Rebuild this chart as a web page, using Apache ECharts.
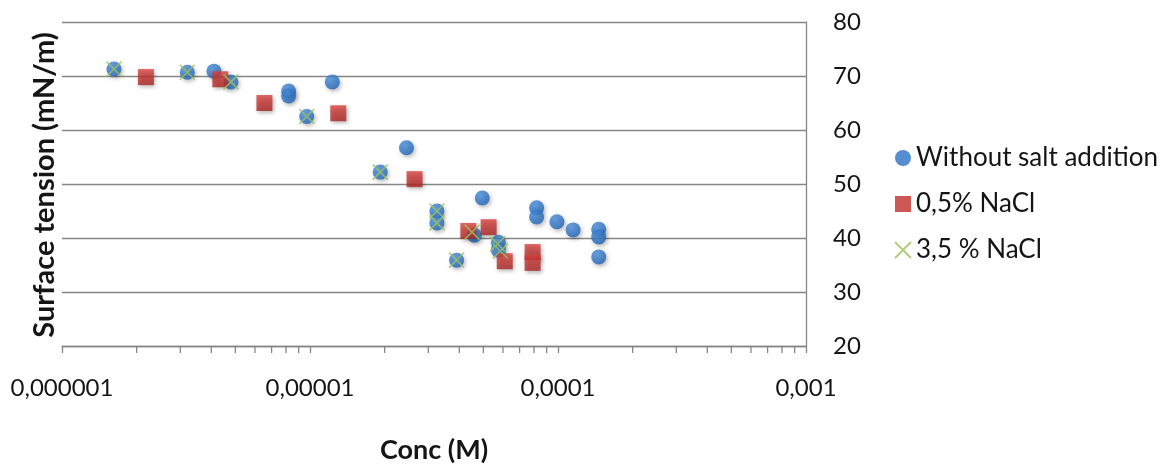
<!DOCTYPE html>
<html>
<head>
<meta charset="utf-8">
<script src="https://cdn.jsdelivr.net/npm/echarts@6/dist/echarts.min.js"></script>
<style>
  html, body { margin: 0; padding: 0; background: #ffffff; }
  #chart { width: 1173px; height: 465px; }
</style>
</head>
<body>
<div id="chart"></div>
<script>
// Surface tension vs. surfactant concentration, with and without NaCl
const seriesNames = ['Without salt addition', '0,5% NaCl', '3,5 % NaCl'];

const noSaltConc = [1.62e-6, 3.2e-6, 4.1e-6, 4.8e-6, 8.2e-6, 8.2e-6, 9.7e-6, 1.23e-5, 1.92e-5, 2.45e-5,
  3.25e-5, 3.25e-5, 3.9e-5, 4.6e-5, 4.95e-5, 5.75e-5, 5.75e-5, 8.2e-5, 8.2e-5, 9.9e-5,
  1.15e-4, 1.46e-4, 1.46e-4, 1.46e-4];
const noSaltTension = [71.3, 70.7, 70.9, 68.9, 67.2, 66.3, 62.5, 68.9, 52.2, 56.7,
  45.0, 42.8, 35.9, 40.5, 47.4, 39.2, 37.8, 45.6, 43.9, 43.0,
  41.5, 41.6, 40.2, 36.5];

const nacl05Conc = [2.18e-6, 4.35e-6, 6.55e-6, 1.3e-5, 2.64e-5, 4.35e-5, 5.25e-5, 6.1e-5, 7.9e-5, 7.9e-5];
const nacl05Tension = [69.8, 69.4, 65.0, 63.1, 50.9, 41.3, 42.0, 35.7, 37.4, 35.4];

const nacl35Conc = [1.62e-6, 3.2e-6, 4.8e-6, 9.7e-6, 1.92e-5, 3.25e-5, 3.25e-5, 3.9e-5, 4.5e-5, 5.7e-5, 5.85e-5];
const nacl35Tension = [71.3, 70.7, 68.9, 62.5, 52.2, 45.0, 42.8, 35.9, 41.1, 38.9, 37.6];

const xTickLabels = ['0,000001', '0,00001', '0,0001', '0,001'];
const xMin = 1e-6, xMax = 1e-3;
const yMin = 20, yMax = 80, yStep = 10;

// minor log ticks 2..9 within every decade
const minorTicks = [];
for (let e = -6; e < -3; e++) {
  for (let k = 2; k <= 9; k++) minorTicks.push(k * Math.pow(10, e));
}

const pair = (xs, ys) => xs.map((x, i) => [x, ys[i]]);

const FONT = 'Lato';
const TEXT = '#151515';
const GRID = '#868686';
const shadow = { shadowBlur: 4, shadowColor: 'rgba(0,0,0,0.35)', shadowOffsetX: 1.5, shadowOffsetY: 2 };

const blueFill = new echarts.graphic.RadialGradient(0.4, 0.35, 0.7, [
  { offset: 0, color: '#4a8fdd' }, { offset: 1, color: '#1f63b6' }
]);
const redFill = new echarts.graphic.LinearGradient(0, 0, 0, 1, [
  { offset: 0, color: '#da413d' }, { offset: 1, color: '#aa2421' }
]);

const chart = echarts.init(document.getElementById('chart'), null, { renderer: 'canvas' });

chart.setOption({
  backgroundColor: '#ffffff',
  animation: false,
  grid: { left: 62, right: 367, top: 22, bottom: 119, containLabel: false, outerBoundsMode: 'none' },
  legend: {
    orient: 'vertical',
    left: 889,
    top: 140,
    itemWidth: 16,
    itemHeight: 16,
    itemGap: 20,
    textStyle: { fontFamily: FONT, fontSize: 26, color: TEXT },
    data: [
      { name: seriesNames[0], icon: 'circle', itemStyle: { color: '#2a70c2' } },
      { name: seriesNames[1], icon: 'rect', itemStyle: { color: '#c0302d' } },
      { name: seriesNames[2], icon: 'path://M0,0L10,10M10,0L0,10' }
    ]
  },
  xAxis: {
    type: 'log',
    logBase: 10,
    min: xMin,
    max: xMax,
    name: 'Conc (M)',
    nameLocation: 'middle',
    nameGap: 91,
    nameTextStyle: { fontFamily: FONT, fontSize: 27, fontWeight: 'bold', color: TEXT },
    axisLine: { show: true, lineStyle: { color: GRID, width: 1.3 } },
    axisTick: { show: true, length: 7, lineStyle: { color: GRID, width: 1.3 } },
    minorTick: { show: false },
    splitLine: { show: false },
    axisLabel: {
      margin: 30,
      fontFamily: FONT, fontSize: 24, color: TEXT,
      formatter: v => {
        const idx = Math.round(Math.log10(v) + 6);
        return xTickLabels[idx] !== undefined ? xTickLabels[idx] : '';
      }
    }
  },
  yAxis: {
    type: 'value',
    position: 'right',
    min: yMin,
    max: yMax,
    interval: yStep,
    axisLine: { show: true, lineStyle: { color: GRID, width: 1.3 } },
    axisTick: { show: false },
    splitLine: { show: true, lineStyle: { color: GRID, width: 1.3 } },
    axisLabel: { margin: 27, fontFamily: FONT, fontSize: 24, color: TEXT }
  },
  graphic: [{
    type: 'text',
    x: 45,
    y: 185,
    rotation: Math.PI / 2,
    style: {
      text: 'Surface tension (mN/m)',
      fontFamily: FONT, fontSize: 29, fontWeight: 'bold', fill: TEXT,
      align: 'center', verticalAlign: 'middle'
    }
  }],
  series: [
    {
      name: 'minor ticks',
      type: 'custom',
      silent: true,
      clip: false,
      data: minorTicks.map(v => [v, yMin]),
      renderItem: (params, api) => {
        const p = api.coord([api.value(0), api.value(1)]);
        return {
          type: 'line',
          shape: { x1: p[0], y1: p[1], x2: p[0], y2: p[1] + 7 },
          style: { stroke: GRID, lineWidth: 1.3 }
        };
      },
      z: 1
    },
    {
      name: seriesNames[0],
      type: 'scatter',
      symbol: 'circle',
      symbolSize: 15,
      data: pair(noSaltConc, noSaltTension),
      itemStyle: Object.assign({ color: blueFill }, shadow),
      z: 2
    },
    {
      name: seriesNames[1],
      type: 'scatter',
      symbol: 'rect',
      symbolSize: 16,
      data: pair(nacl05Conc, nacl05Tension),
      itemStyle: Object.assign({ color: redFill }, shadow),
      z: 3
    },
    {
      name: seriesNames[2],
      type: 'scatter',
      symbol: 'path://M0,0L10,10M10,0L0,10',
      symbolSize: 15,
      data: pair(nacl35Conc, nacl35Tension),
      itemStyle: { color: 'rgba(0,0,0,0)', borderColor: '#9bc35a', borderWidth: 1.6 },
      z: 4
    }
  ]
});
</script>
</body>
</html>
